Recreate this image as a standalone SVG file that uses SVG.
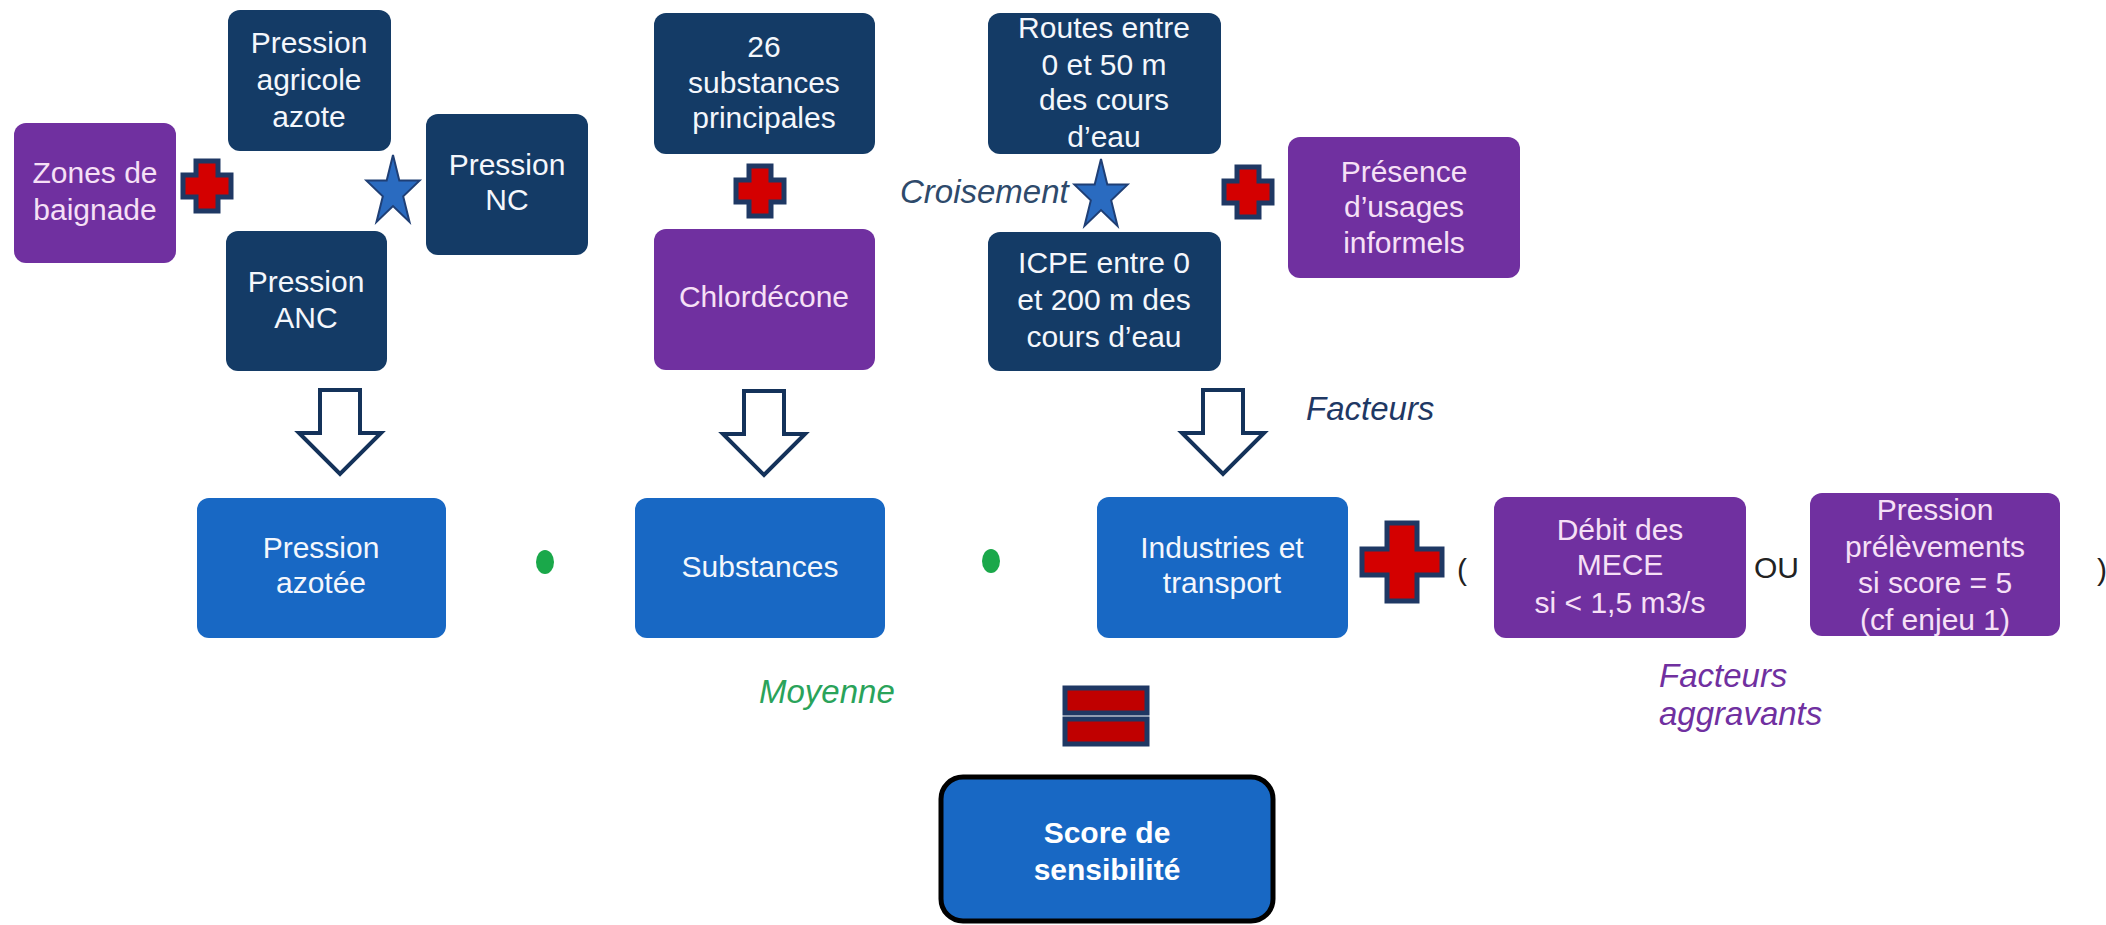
<svg xmlns="http://www.w3.org/2000/svg" width="2106" height="925" viewBox="0 0 2106 925">
<style>
.navy{fill:#143b66}
.purple{fill:#7030a0}
.blue{fill:#1868c4}
.t{font-family:"Liberation Sans",Arial,sans-serif;font-size:30px;fill:#f4f7fc;text-anchor:middle}
.tp{font-family:"Liberation Sans",Arial,sans-serif;font-size:30px;fill:#f6e0f6;text-anchor:middle}
.tb{font-family:"Liberation Sans",Arial,sans-serif;font-size:30px;fill:#ffffff;text-anchor:middle;font-weight:bold}
.it{font-family:"Liberation Sans",Arial,sans-serif;font-size:33px;font-style:italic}
.plus{fill:#d40000;stroke:#1f3864;stroke-width:5;stroke-linejoin:miter}
.star{fill:#2a6bc0;stroke:#1f3f75;stroke-width:2}
.arrow{fill:#ffffff;stroke:#14325a;stroke-width:4;stroke-linejoin:miter}
.dot{fill:#1aa84a}
.op{font-family:"Liberation Sans",Arial,sans-serif;font-size:30px;fill:#222222}
</style>
<defs>
<path id="plusS" d="M-11,-25 H11 V-11 H24 V11 H11 V25 H-11 V11 H-24 V-11 H-11 Z"/>
<path id="plusL" d="M-15,-39 H15 V-13 H40 V13 H15 V39 H-15 V13 H-40 V-13 H-15 Z"/>
<path id="starP" d="M0,-37 L6.3,-11.4 L26.6,-11.4 L10.2,4.4 L16.5,29.9 L0,14.1 L-16.5,29.9 L-10.2,4.4 L-26.6,-11.4 L-6.3,-11.4 Z"/>
<path id="arrowP" d="M-20,0 H20 V43 H41 L0,84 L-41,43 H-20 Z"/>
</defs>
<rect width="2106" height="925" fill="#ffffff"/>

<g id="zones-baignade">
<rect class="purple" x="14" y="123" width="162" height="140" rx="12"/>
<text class="tp" x="95" y="183">Zones de</text>
<text class="tp" x="95" y="220">baignade</text>
</g>
<g id="pression-agricole">
<rect class="navy" x="228" y="10" width="163" height="141" rx="12"/>
<text class="t" x="309" y="53">Pression</text>
<text class="t" x="309" y="90">agricole</text>
<text class="t" x="309" y="127">azote</text>
</g>
<g id="pression-nc">
<rect class="navy" x="426" y="114" width="162" height="141" rx="12"/>
<text class="t" x="507" y="175">Pression</text>
<text class="t" x="507" y="210">NC</text>
</g>
<g id="pression-anc">
<rect class="navy" x="226" y="231" width="161" height="140" rx="12"/>
<text class="t" x="306" y="292">Pression</text>
<text class="t" x="306" y="328">ANC</text>
</g>
<g id="substances-26">
<rect class="navy" x="654" y="13" width="221" height="141" rx="12"/>
<text class="t" x="764" y="57">26</text>
<text class="t" x="764" y="93">substances</text>
<text class="t" x="764" y="128">principales</text>
</g>
<g id="chlordecone">
<rect class="purple" x="654" y="229" width="221" height="141" rx="12"/>
<text class="tp" x="764" y="307">Chlordécone</text>
</g>
<g id="routes">
<rect class="navy" x="988" y="13" width="233" height="141" rx="12"/>
<text class="t" x="1104" y="38">Routes entre</text>
<text class="t" x="1104" y="75">0 et 50 m</text>
<text class="t" x="1104" y="110">des cours</text>
<text class="t" x="1104" y="147">d’eau</text>
</g>
<g id="icpe">
<rect class="navy" x="988" y="232" width="233" height="139" rx="12"/>
<text class="t" x="1104" y="273">ICPE entre 0</text>
<text class="t" x="1104" y="310">et 200 m des</text>
<text class="t" x="1104" y="347">cours d’eau</text>
</g>
<g id="presence-usages">
<rect class="purple" x="1288" y="137" width="232" height="141" rx="12"/>
<text class="tp" x="1404" y="182">Présence</text>
<text class="tp" x="1404" y="217">d’usages</text>
<text class="tp" x="1404" y="253">informels</text>
</g>
<g id="pression-azotee">
<rect class="blue" x="197" y="498" width="249" height="140" rx="12"/>
<text class="t" x="321" y="558">Pression</text>
<text class="t" x="321" y="593">azotée</text>
</g>
<g id="substances">
<rect class="blue" x="635" y="498" width="250" height="140" rx="12"/>
<text class="t" x="760" y="577">Substances</text>
</g>
<g id="industries-transport">
<rect class="blue" x="1097" y="497" width="251" height="141" rx="12"/>
<text class="t" x="1222" y="558">Industries et</text>
<text class="t" x="1222" y="593">transport</text>
</g>
<g id="debit-mece">
<rect class="purple" x="1494" y="497" width="252" height="141" rx="12"/>
<text class="tp" x="1620" y="540">Débit des</text>
<text class="tp" x="1620" y="575">MECE</text>
<text class="tp" x="1620" y="613">si &lt; 1,5 m3/s</text>
</g>
<g id="pression-prelevements">
<rect class="purple" x="1810" y="493" width="250" height="143" rx="12"/>
<text class="tp" x="1935" y="520">Pression</text>
<text class="tp" x="1935" y="557">prélèvements</text>
<text class="tp" x="1935" y="593">si score = 5</text>
<text class="tp" x="1935" y="630">(cf enjeu 1)</text>
</g>
<g id="score-sensibilite">
<rect x="941" y="777" width="332" height="144" rx="22" fill="#1868c4" stroke="#000000" stroke-width="5"/>
<text class="tb" x="1107" y="843">Score de</text>
<text class="tb" x="1107" y="880">sensibilité</text>
</g>

<g id="operators">
<use href="#plusS" class="plus" x="207" y="186"/>
<use href="#plusS" class="plus" x="760" y="191"/>
<use href="#plusS" class="plus" x="1248" y="192"/>
<use href="#plusL" class="plus" x="1402" y="562"/>
<use href="#starP" class="star" x="393" y="192"/>
<use href="#starP" class="star" x="1101" y="196"/>
<ellipse class="dot" cx="545" cy="562" rx="9" ry="12"/>
<ellipse class="dot" cx="991" cy="561" rx="9" ry="12"/>
<rect x="1065" y="688" width="82" height="25" fill="#c00000" stroke="#1f3864" stroke-width="5"/>
<rect x="1065" y="719" width="82" height="25" fill="#c00000" stroke="#1f3864" stroke-width="5"/>
<text class="op" x="1457" y="580">(</text>
<text class="op" x="1754" y="578">OU</text>
<text class="op" x="2097" y="580">)</text>
</g>

<g id="connectors">
<use href="#arrowP" class="arrow" x="340" y="390"/>
<use href="#arrowP" class="arrow" x="764" y="391"/>
<use href="#arrowP" class="arrow" x="1223" y="390"/>
</g>

<g id="labels">
<text class="it" x="900" y="203" fill="#2e4a6b">Croisement</text>
<text class="it" x="1306" y="420" fill="#1f3864">Facteurs</text>
<text class="it" x="1659" y="687" fill="#7030a0">Facteurs</text>
<text class="it" x="1659" y="725" fill="#7030a0">aggravants</text>
<text class="it" x="759" y="703" fill="#2aa35a">Moyenne</text>
</g>
</svg>
